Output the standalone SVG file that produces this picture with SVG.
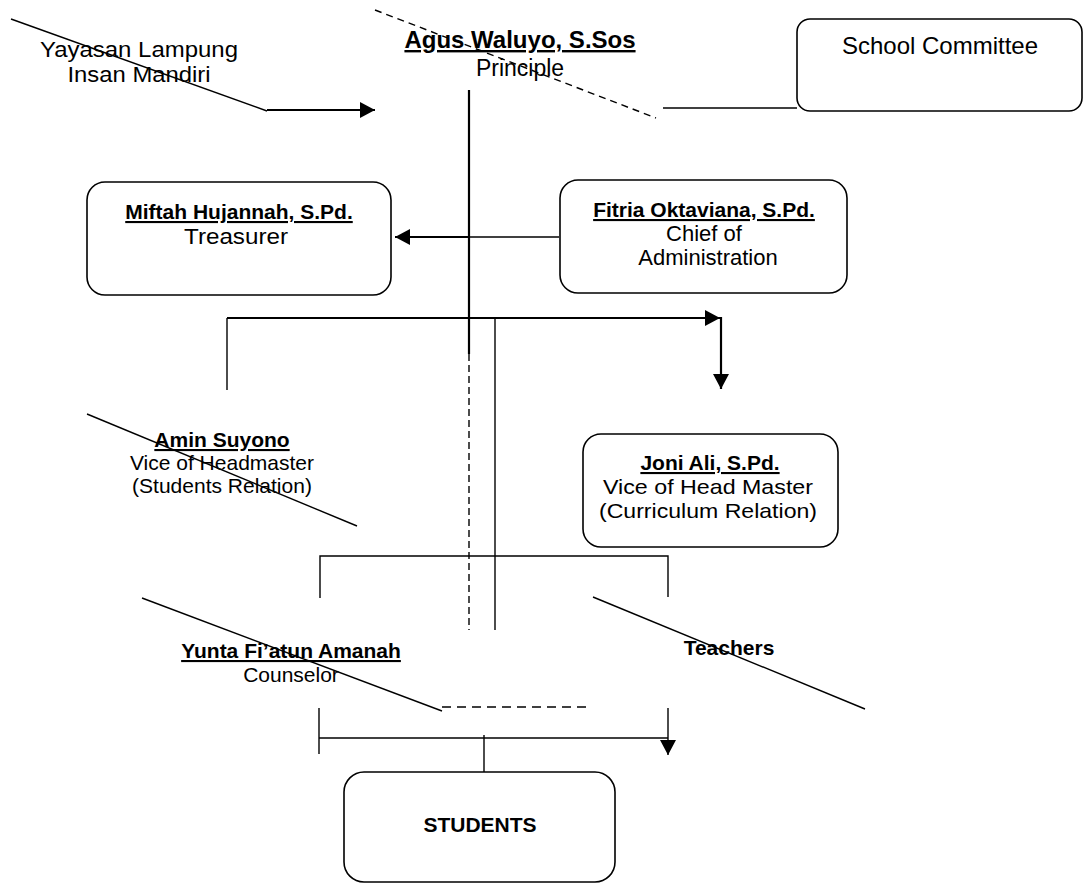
<svg xmlns="http://www.w3.org/2000/svg" width="1083" height="884" viewBox="0 0 1083 884">
<style>
.t{font-family:"Liberation Sans",Arial,sans-serif;fill:#000;text-anchor:middle}
.b{font-weight:bold}
.u{text-decoration:underline}
.box{fill:#fff;stroke:#000;stroke-width:1.6}
.ln{stroke:#000;stroke-width:1.4;fill:none}
.thk{stroke-width:2.2}
.d1{stroke-dasharray:7 5}
.d2{stroke-dasharray:7 4}
.d3{stroke-dasharray:9 6}
</style>
<defs>
<marker id="ah" markerUnits="userSpaceOnUse" markerWidth="15" markerHeight="16" refX="15" refY="8" orient="auto">
<path d="M0,0 L15,8 L0,16 z" fill="#000"/>
</marker>
</defs>
<rect width="1083" height="884" fill="#fff"/>
<g id="connectors">
<line class="ln" x1="11" y1="19" x2="267" y2="111"/>
<line class="ln thk" x1="267" y1="110" x2="375" y2="110" marker-end="url(#ah)"/>
<line class="ln d1" x1="375" y1="10" x2="656" y2="118"/>
<line class="ln" x1="663" y1="108" x2="797" y2="108"/>
<line class="ln thk" x1="469" y1="90" x2="469" y2="354"/>
<line class="ln d2" x1="469" y1="354" x2="469" y2="630"/>
<line class="ln" x1="559" y1="237" x2="469" y2="237"/>
<line class="ln thk" x1="469" y1="237" x2="395" y2="237" marker-end="url(#ah)"/>
<polyline class="ln" points="227,390 227,318"/>
<line class="ln thk" x1="227" y1="318" x2="720" y2="318" marker-end="url(#ah)"/>
<line class="ln thk" x1="721" y1="317" x2="721" y2="389" marker-end="url(#ah)"/>
<line class="ln" x1="495" y1="318" x2="495" y2="630"/>
<line class="ln" x1="87" y1="414" x2="357" y2="526"/>
<polyline class="ln" points="320,598 320,556 668,556 668,597"/>
<line class="ln" x1="142" y1="598" x2="442" y2="711"/>
<line class="ln d3" x1="442" y1="707" x2="592" y2="707"/>
<line class="ln" x1="593" y1="597" x2="865" y2="709"/>
<line class="ln" x1="319" y1="708" x2="319" y2="754"/>
<line class="ln" x1="319" y1="738" x2="668" y2="738"/>
<line class="ln" x1="668" y1="708" x2="668" y2="755" marker-end="url(#ah)"/>
<line class="ln" x1="484" y1="735" x2="484" y2="772"/>
</g>
<g id="yayasan">
<text class="t" x="139" y="57" font-size="22" textLength="198" lengthAdjust="spacingAndGlyphs">Yayasan Lampung</text>
<text class="t" x="139" y="82" font-size="22" textLength="143" lengthAdjust="spacingAndGlyphs">Insan Mandiri</text>
</g>
<g id="principal">
<text class="t b u" x="520" y="48" font-size="24">Agus Waluyo, S.Sos</text>
<text class="t" x="520" y="76" font-size="23">Principle</text>
</g>
<g id="committee">
<rect class="box" x="797" y="19" width="285" height="92" rx="13"/>
<text class="t" x="940" y="54" font-size="24">School Committee</text>
</g>
<g id="treasurer">
<rect class="box" x="87" y="182" width="304" height="113" rx="18"/>
<text class="t b u" x="239" y="219" font-size="21">Miftah Hujannah, S.Pd.</text>
<text class="t" x="236" y="244" font-size="22" textLength="104" lengthAdjust="spacingAndGlyphs">Treasurer</text>
</g>
<g id="administration">
<rect class="box" x="560" y="180" width="287" height="113" rx="18"/>
<text class="t b u" x="704" y="217" font-size="21">Fitria Oktaviana, S.Pd.</text>
<text class="t" x="704" y="241" font-size="22">Chief of</text>
<text class="t" x="708" y="265" font-size="22">Administration</text>
</g>
<g id="vice-students">
<text class="t b u" x="222" y="447" font-size="21">Amin Suyono</text>
<text class="t" x="222" y="470" font-size="21">Vice of Headmaster</text>
<text class="t" x="222" y="493" font-size="21">(Students Relation)</text>
</g>
<g id="vice-curriculum">
<rect class="box" x="583" y="434" width="255" height="113" rx="18"/>
<text class="t b u" x="710" y="470" font-size="21">Joni Ali, S.Pd.</text>
<text class="t" x="708" y="494" font-size="21" textLength="210" lengthAdjust="spacingAndGlyphs">Vice of Head Master</text>
<text class="t" x="708" y="518" font-size="21" textLength="218" lengthAdjust="spacingAndGlyphs">(Curriculum Relation)</text>
</g>
<g id="counselor">
<text class="t b u" x="291" y="658" font-size="21">Yunta Fi’atun Amanah</text>
<text class="t" x="291" y="682" font-size="21">Counselor</text>
</g>
<g id="teachers">
<text class="t b" x="729" y="655" font-size="21">Teachers</text>
</g>
<g id="students">
<rect class="box" x="344" y="772" width="271" height="110" rx="20"/>
<text class="t b" x="480" y="832" font-size="21">STUDENTS</text>
</g>
</svg>
